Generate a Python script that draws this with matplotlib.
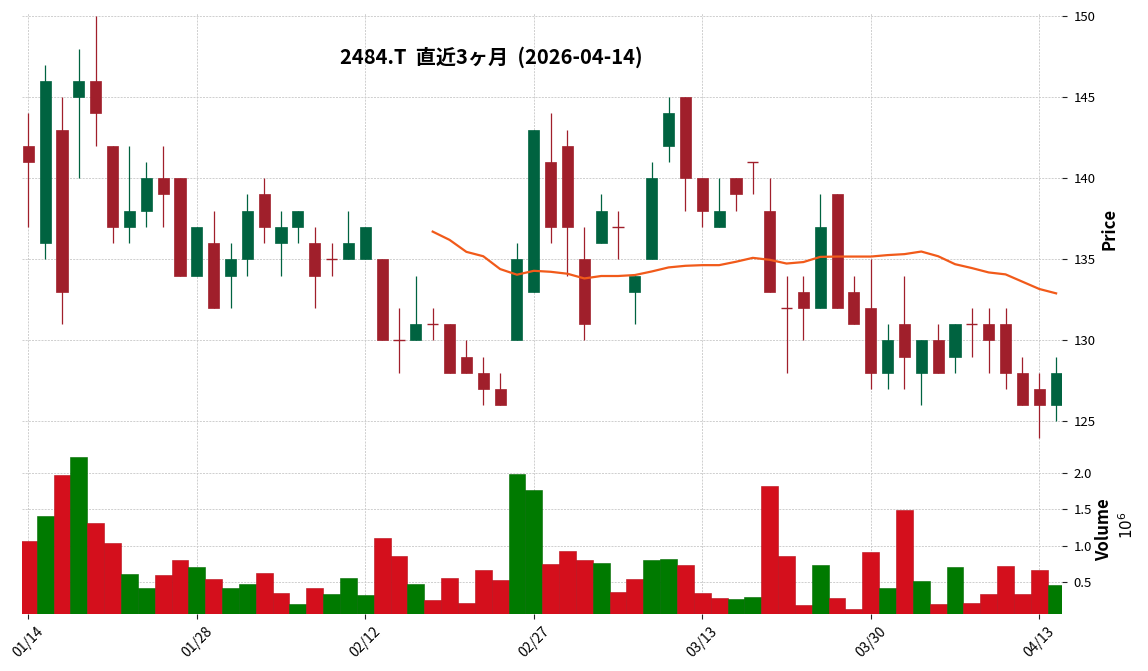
import matplotlib
matplotlib.use("Agg")
import matplotlib.pyplot as plt
from matplotlib.ticker import FuncFormatter, FixedLocator

plt.rcParams['font.family'] = ['Noto Sans CJK JP', 'DejaVu Sans']

dates = ['01/14', '01/15', '01/16', '01/19', '01/20', '01/21', '01/22', '01/23',
         '01/26', '01/27', '01/28', '01/29', '01/30', '02/02', '02/03', '02/04',
         '02/05', '02/06', '02/09', '02/10', '02/12', '02/13', '02/16', '02/17',
         '02/18', '02/19', '02/20', '02/24', '02/25', '02/26', '02/27', '03/02',
         '03/03', '03/04', '03/05', '03/06', '03/09', '03/10', '03/11', '03/12',
         '03/13', '03/16', '03/17', '03/18', '03/19', '03/23', '03/24', '03/25',
         '03/26', '03/27', '03/30', '03/31', '04/01', '04/02', '04/03', '04/06',
         '04/07', '04/08', '04/09', '04/10', '04/13', '04/14']

opens = [142, 136, 143, 145, 146, 142, 137, 138, 140, 140, 134, 136, 134, 135, 139, 136,
         137, 136, 135, 135, 135, 135, 130, 130, 131, 131, 129, 128, 127, 130, 133, 141,
         142, 135, 136, 137, 133, 135, 142, 145, 140, 137, 140, 141, 138, 132, 133, 132,
         139, 133, 132, 128, 131, 128, 130, 129, 131, 131, 131, 128, 127, 126]
highs = [144, 147, 145, 148, 150, 142, 142, 141, 142, 140, 137, 138, 136, 139, 140, 138,
         138, 137, 136, 138, 137, 135, 132, 134, 132, 131, 130, 129, 128, 136, 143, 144,
         143, 137, 139, 138, 134, 141, 145, 145, 140, 140, 140, 141, 140, 134, 134, 139,
         139, 134, 135, 131, 134, 130, 131, 131, 132, 132, 132, 129, 128, 129]
lows = [137, 135, 131, 140, 142, 136, 136, 137, 137, 134, 134, 132, 132, 134, 136, 134,
        136, 132, 134, 135, 135, 130, 128, 130, 130, 128, 128, 126, 126, 130, 133, 136,
        134, 130, 136, 135, 131, 135, 141, 138, 137, 137, 138, 139, 133, 128, 130, 132,
        132, 131, 127, 127, 127, 126, 128, 128, 129, 128, 127, 126, 124, 125]
closes = [141, 146, 133, 146, 144, 137, 138, 140, 139, 134, 137, 132, 135, 138, 137, 137,
          138, 134, 135, 136, 137, 130, 130, 131, 131, 128, 128, 127, 126, 135, 143, 137,
          137, 131, 138, 137, 134, 140, 144, 140, 138, 138, 139, 141, 133, 132, 132, 137,
          132, 131, 128, 130, 129, 130, 128, 131, 131, 130, 128, 126, 126, 128]
volumes = [1063000, 1410000, 1977000, 2213000, 1313000, 1035000, 606000, 412000,
           592000, 800000, 703000, 537000, 412000, 468000, 620000, 343000,
           190000, 412000, 329000, 551000, 315000, 1105000, 856000, 468000,
           246000, 551000, 204000, 661000, 523000, 1990000, 1770000, 745000,
           925000, 800000, 758000, 357000, 537000, 800000, 814000, 731000,
           343000, 274000, 260000, 287000, 1824000, 856000, 177000, 731000,
           274000, 121000, 911000, 412000, 1492000, 509000, 190000, 703000,
           204000, 329000, 717000, 329000, 661000, 454000]
ma25_start = 24
ma25 = [136.71, 136.20, 135.46, 135.19, 134.40, 134.05, 134.29, 134.23, 134.11, 133.82,
        133.97, 133.97, 134.03, 134.25, 134.50, 134.60, 134.64, 134.64, 134.85, 135.09,
        134.97, 134.74, 134.83, 135.15, 135.17, 135.17, 135.17, 135.26, 135.32, 135.48,
        135.19, 134.70, 134.46, 134.19, 134.07, 133.62, 133.17, 132.90]

UP = '#006340'
DOWN = '#a01f2b'
VUP = '#007a00'
VDOWN = '#d40f1c'
MA_COLOR = '#f15a1a'
GRID = '#c8c8c8'

W, H = 1148, 671
fig = plt.figure(figsize=(W / 100, H / 100), dpi=100)
left = 22 / W
width = (1062 - 22) / W
ax = fig.add_axes([left, 1 - 440 / H, width, (440 - 13) / H])
axv = fig.add_axes([left, 1 - 614 / H, width, (614 - 441) / H], sharex=ax)

n = len(dates)
xs = list(range(n))
body_w = 0.66
for i in xs:
    o, h, l, c = opens[i], highs[i], lows[i], closes[i]
    col = UP if c > o else DOWN
    ax.vlines(i, l, h, color=col, linewidth=0.9, zorder=2)
    if c == o:
        ax.hlines(o, i - body_w / 2, i + body_w / 2, color=col, linewidth=1.0, zorder=3)
    else:
        ax.bar(i, abs(c - o), bottom=min(o, c), width=body_w, color=col,
               edgecolor=col, linewidth=0.5, zorder=3)

ax.plot(xs[ma25_start:], ma25, color=MA_COLOR, linewidth=1.6, zorder=4)

vcols = []
for i in xs:
    if i == 0:
        vcols.append(VUP if closes[i] > opens[i] else VDOWN)
    else:
        vcols.append(VUP if closes[i] > closes[i - 1] else VDOWN)
edgecols = ['#006a00' if c == VUP else '#b80d18' for c in vcols]
axv.bar(xs, volumes, width=1.0, color=vcols, edgecolor=edgecols, linewidth=0.4, zorder=3)

ax.set_xlim(-0.375, 61.35)
ax.set_ylim(123.85, 150.2)
axv.set_ylim(57000, 2440000)

for a in (ax, axv):
    for s in a.spines.values():
        s.set_visible(False)
    a.grid(True, linestyle=(0, (2.4, 1.4)), color=GRID, linewidth=0.6, zorder=0)
    a.set_axisbelow(True)
    a.yaxis.tick_right()
    a.tick_params(axis='y', which='both', length=3.5, width=0.8, pad=5,
                  labelsize=9.5, colors='#222222', labelcolor='black')

tick_idx = list(range(0, n, 10))
axv.xaxis.set_major_locator(FixedLocator(tick_idx))
axv.set_xticklabels([dates[i] for i in tick_idx], rotation=45, ha='center', fontsize=10)
axv.tick_params(axis='x', length=3.5, width=0.8, pad=4, colors='#222222', labelcolor='black')
ax.tick_params(axis='x', length=0, labelbottom=False)

ax.set_yticks([125, 130, 135, 140, 145, 150])
axv.set_yticks([500000, 1000000, 1500000, 2000000])
axv.yaxis.set_major_formatter(FuncFormatter(lambda v, p: f'{v / 1e6:.1f}'))

fig.text(491 / W, 1 - 57 / H, '2484.T  直近3ヶ月  (2026-04-14)', ha='center', va='center',
         fontsize=14.5, fontweight='bold')
fig.text(1110 / W, 1 - 229 / H, 'Price', rotation=90, ha='center', va='center',
         fontsize=12, fontweight='bold')
fig.text(1104 / W, 1 - 530 / H, 'Volume', rotation=90, ha='center', va='center',
         fontsize=12, fontweight='bold')
fig.text(1128 / W, 1 - 525 / H, r'$10^{6}$', rotation=90, ha='center', va='center',
         fontsize=11)

fig.savefig('out.png', dpi=100)
